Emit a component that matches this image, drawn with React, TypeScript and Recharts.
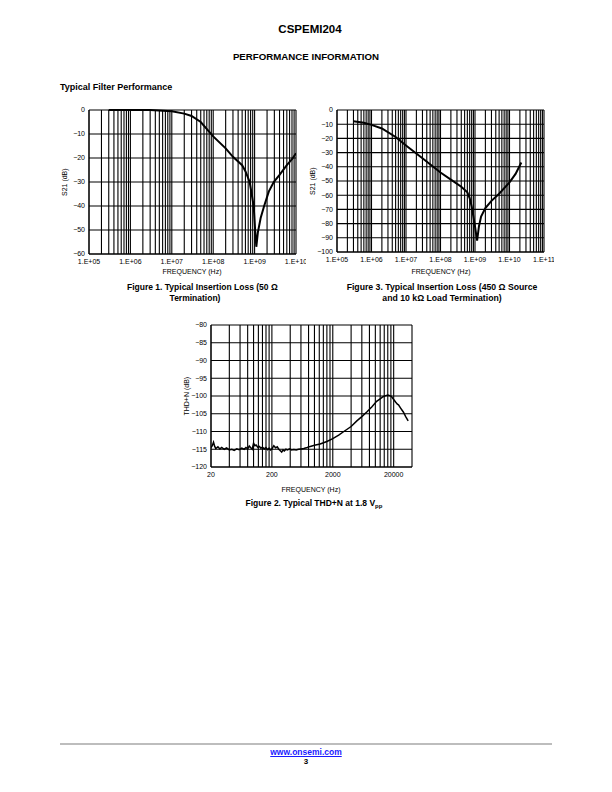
import React from "react";
import { LineChart, Line, XAxis, YAxis, CartesianGrid } from "recharts";

const FONT = "'Liberation Sans', Arial, Helvetica, sans-serif";

// Figure 1: insertion loss, 50 ohm
const FIG1_FREQ = [3e5, 1e6, 3e6, 1e7, 2e7, 3e7, 5e7, 1e8, 2e8, 3e8, 5e8, 6e8, 7.6e8, 8.5e8, 9.5e8, 1.03e9, 1.1e9, 1.2e9, 1.4e9, 1.7e9, 2.2e9, 2.9e9, 4e9, 6e9, 8e9, 1e10];
const FIG1_DB = [0, 0, 0, -0.5, -1.5, -2.5, -5, -11, -16, -19.5, -23, -25.5, -30, -35, -40, -50, -57, -51, -45, -40, -34, -30, -27, -23, -20.5, -18];

// Figure 3: insertion loss, 450 ohm source / 10k load
const FIG3_FREQ = [3e5, 6e5, 1e6, 2e6, 5e6, 1e7, 3e7, 1e8, 2e8, 4e8, 6e8, 7e8, 8e8, 9e8, 1e9, 1.15e9, 1.3e9, 1.5e9, 2e9, 3e9, 5e9, 1e10, 1.5e10, 2.2e10];
const FIG3_DB = [-8, -9, -10.5, -13, -19, -25, -34, -44, -49, -54, -58, -62, -68, -75, -82, -92, -82, -75, -69, -64, -59, -51, -45, -37];

// Figure 2: THD+N
const FIG2_FREQ = [20, 21, 22, 23, 24, 26, 28, 30, 33, 36, 40, 44, 48, 53, 58, 64, 70, 75, 80, 85, 90, 95, 100, 105, 110, 118, 125, 132, 140, 150, 160, 170, 180, 190, 200, 215, 230, 245, 260, 275, 290, 305, 320, 340, 360, 390, 420, 460, 500, 550, 600, 668, 760, 854, 1000, 1240, 1600, 2000, 2500, 3040, 4000, 4970, 6000, 7230, 8800, 10500, 12000, 13400, 14800, 16100, 17200, 18300, 19200, 20000, 21500, 23000, 24000, 26000, 28800, 31500, 34600];
const FIG2_DB = [-114.5, -114, -113, -114.2, -114.8, -114.3, -114.9, -114.5, -115, -114.6, -115.2, -115, -115.3, -114.9, -115.1, -114.7, -115, -114.5, -114.9, -114.1, -114.6, -115, -113.3, -114, -113.8, -114.5, -114.2, -114.7, -114.4, -114.9, -114.5, -115.1, -114.7, -115.2, -114.9, -114, -114.6, -114.3, -115, -115.4, -115.8, -115.2, -115.5, -115, -115.2, -114.9, -115.2, -115.1, -115.2, -115, -114.9, -114.8, -114.5, -114.2, -113.9, -113.5, -112.8, -112, -111, -110, -108.6, -107, -105.8, -104.5, -103, -101.5, -100.8, -100.2, -99.9, -99.7, -99.9, -100.1, -100.6, -101, -101.7, -102.3, -102.5, -103.4, -104.5, -105.8, -107];

const MULTS = [1, 2, 3, 4, 5, 6, 7, 8, 9];

const FIG1_DECADES = [1e5, 1e6, 1e7, 1e8, 1e9, 1e10];
const FIG1_LABELS = ["1.E+05", "1.E+06", "1.E+07", "1.E+08", "1.E+09", "1.E+10"];
const FIG1_Y = [0, -10, -20, -30, -40, -50, -60];

const FIG3_DECADES = [1e5, 1e6, 1e7, 1e8, 1e9, 1e10, 1e11];
const FIG3_LABELS = ["1.E+05", "1.E+06", "1.E+07", "1.E+08", "1.E+09", "1.E+10", "1.E+11"];
const FIG3_Y = [0, -10, -20, -30, -40, -50, -60, -70, -80, -90, -100];

const FIG2_DECADES = [20, 200, 2000, 20000];
const FIG2_LABELS = ["20", "200", "2000", "20000"];
const FIG2_END = 40000;
const FIG2_Y = [-80, -85, -90, -95, -100, -105, -110, -115, -120];

// grid lines at every 1..9 step of each decade, plus the closing edge
const gridTicks = (decades: number[], end: number) => {
  const out: number[] = [];
  decades.slice(0, -1).forEach((d) => MULTS.forEach((m) => out.push(d * m)));
  out.push(decades[decades.length - 1]);
  if (end !== decades[decades.length - 1]) out.push(end);
  return out;
};

const minus = (v: number) => (v < 0 ? "\u2212" + Math.abs(v) : String(v));

const tickStyle = { fontSize: 7, fill: "#000", fontFamily: FONT };

type ChartProps = {
  freq: number[];
  db: number[];
  decades: number[];
  labels: string[];
  end: number;
  yTicks: number[];
  left: number;
  top: number;
  width: number;
  height: number;
  margin: { top: number; right: number; bottom: number; left: number };
  lineWidth: number;
};

function LogChart(p: ChartProps) {
  const data = p.freq.map((f, i) => ({ f, v: p.db[i] }));
  const ticks = gridTicks(p.decades, p.end);
  const yMin = Math.min(...p.yTicks);
  const yMax = Math.max(...p.yTicks);
  return (
    <div style={{ position: "absolute", left: p.left, top: p.top }}>
      <LineChart width={p.width} height={p.height} data={data} margin={p.margin}>
        <CartesianGrid stroke="#000" strokeWidth={1.1} />
        <XAxis
          dataKey="f"
          type="number"
          scale="log"
          domain={[p.decades[0], p.end]}
          allowDataOverflow
          ticks={ticks}
          interval={0}
          tickSize={0}
          tickMargin={5}
          height={16}
          axisLine={{ stroke: "#000" }}
          tick={tickStyle}
          tickFormatter={(v: number) => {
            const i = p.decades.indexOf(v);
            return i >= 0 ? p.labels[i] : "";
          }}
        />
        <YAxis
          type="number"
          domain={[yMin, yMax]}
          ticks={p.yTicks}
          interval={0}
          tickSize={0}
          tickMargin={4}
          width={33}
          axisLine={{ stroke: "#000" }}
          tick={tickStyle}
          tickFormatter={minus}
        />
        <Line
          dataKey="v"
          type="linear"
          stroke="#000"
          strokeWidth={p.lineWidth}
          dot={false}
          isAnimationActive={false}
        />
      </LineChart>
    </div>
  );
}

const Txt = ({ x, y, size, bold, children, align = "center", color = "#000", style = {} }: any) => (
  <div
    style={{
      position: "absolute",
      left: align === "center" ? x - 200 : x,
      top: y - size * 0.6,
      width: align === "center" ? 400 : undefined,
      textAlign: align,
      fontSize: size,
      lineHeight: `${size * 1.2}px`,
      fontWeight: bold ? 700 : 400,
      fontFamily: FONT,
      color,
      whiteSpace: "nowrap",
      ...style,
    }}
  >
    {children}
  </div>
);

const VTxt = ({ x, y, size, children }: any) => (
  <div
    style={{
      position: "absolute",
      left: x - 50,
      top: y - size * 0.6,
      width: 100,
      textAlign: "center",
      fontSize: size,
      lineHeight: `${size * 1.2}px`,
      fontFamily: FONT,
      transform: "rotate(-90deg)",
      whiteSpace: "nowrap",
    }}
  >
    {children}
  </div>
);

export default function App() {
  return (
    <div style={{ position: "absolute", left: 0, top: 0, width: 612, height: 792, background: "#fff", overflow: "hidden" }}>
      <Txt x={310} y={30} size={11.5} bold>CSPEMI204</Txt>
      <Txt x={306} y={57} size={9.7} bold>PERFORMANCE INFORMATION</Txt>
      <Txt x={60} y={87} size={9} bold align="left">Typical Filter Performance</Txt>

      <LogChart
        freq={FIG1_FREQ}
        db={FIG1_DB}
        decades={FIG1_DECADES}
        labels={FIG1_LABELS}
        end={1e10}
        yTicks={FIG1_Y}
        left={56}
        top={102}
        width={250}
        height={175}
        margin={{ top: 8, right: 10, bottom: 7, left: 0 }}
        lineWidth={2}
      />
      <VTxt x={65} y={182} size={7}>S21 (dB)</VTxt>
      <Txt x={192} y={272} size={7}>FREQUENCY (Hz)</Txt>
      <Txt x={127} y={287} size={8.5} bold align="left">Figure 1. Typical Insertion Loss (50 Ω</Txt>
      <Txt x={195} y={298} size={8.5} bold>Termination)</Txt>

      <LogChart
        freq={FIG3_FREQ}
        db={FIG3_DB}
        decades={FIG3_DECADES}
        labels={FIG3_LABELS}
        end={1e11}
        yTicks={FIG3_Y}
        left={304}
        top={102}
        width={250}
        height={175}
        margin={{ top: 8, right: 10, bottom: 9, left: 0 }}
        lineWidth={2}
      />
      <VTxt x={313} y={181} size={7}>S21 (dB)</VTxt>
      <Txt x={441} y={272} size={7}>FREQUENCY (Hz)</Txt>
      <Txt x={442} y={287} size={8.7} bold>Figure 3. Typical Insertion Loss (450 Ω Source</Txt>
      <Txt x={442} y={298} size={8.7} bold>and 10 kΩ Load Termination)</Txt>

      <LogChart
        freq={FIG2_FREQ}
        db={FIG2_DB}
        decades={FIG2_DECADES}
        labels={FIG2_LABELS}
        end={FIG2_END}
        yTicks={FIG2_Y}
        left={178}
        top={315}
        width={250}
        height={170}
        margin={{ top: 10, right: 16, bottom: 2, left: 0 }}
        lineWidth={1.5}
      />
      <VTxt x={187} y={396} size={7}>THD+N (dB)</VTxt>
      <Txt x={311} y={490} size={7}>FREQUENCY (Hz)</Txt>
      <Txt x={314} y={503} size={8.5} bold>
        Figure 2. Typical THD+N at 1.8 V<sub style={{ fontSize: 6, verticalAlign: "-2px", lineHeight: 0 }}>pp</sub>
      </Txt>

      <div style={{ position: "absolute", left: 60, top: 743, width: 492, height: 2, background: "#bdbdbd" }} />
      <Txt x={306} y={752} size={8.5} bold color="#1a1aff" style={{ textDecoration: "underline" }}>www.onsemi.com</Txt>
      <Txt x={306} y={762} size={8} bold>3</Txt>
    </div>
  );
}
